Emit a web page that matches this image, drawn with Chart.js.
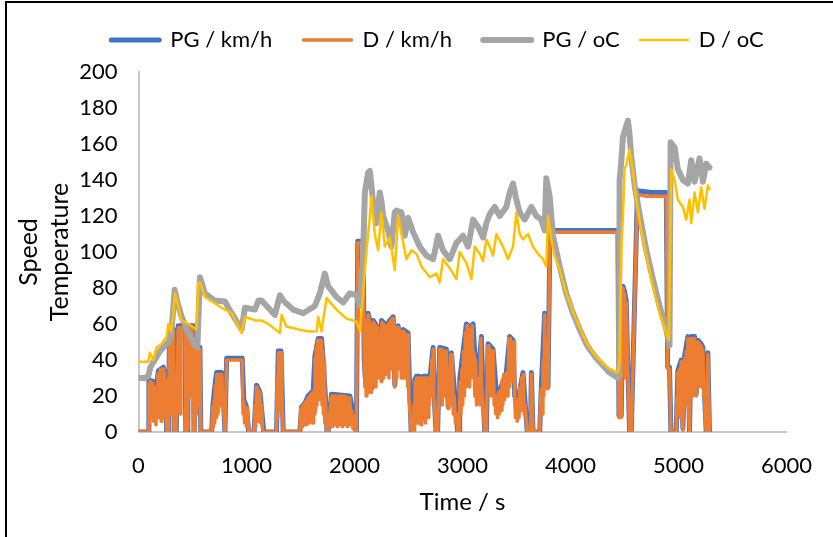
<!DOCTYPE html>
<html>
<head>
<meta charset="utf-8">
<script src="https://cdn.jsdelivr.net/npm/chart.js@4.4.0/dist/chart.umd.min.js"></script>
<style>
  html, body { margin: 0; padding: 0; background: #fff; }
  #wrap { position: relative; width: 833px; height: 537px; overflow: hidden; }
  #frame { position: absolute; left: 5px; top: 1px; width: 900px; height: 700px;
           border-left: 2px solid #000; border-top: 2px solid #000; pointer-events: none; }
</style>
</head>
<body>
<div id="wrap">
  <canvas id="chart" width="833" height="537"></canvas>
  <div id="frame"></div>
</div>
<script>
// [time s, value]
const pgSpeed = [[0,0],[91,0],[96,29],[137,28],[160,23],[184,34],[230,36],[252,30],[260,0],[276,0],[288,57],[325,57],[330,0],[350,0],[368,59],[430,59],[438,0],[456,0],[462,59],[507,59],[515,0],[523,0],[530,47],[569,47],[577,0],[677,0],[690,16],[710,27],[723,33],[770,33],[790,14],[800,0],[816,41],[960,41],[975,18],[1000,14],[1020,0],[1070,0],[1093,26],[1125,22],[1160,0],[1278,0],[1294,45],[1320,45],[1340,0],[1494,0],[1510,14],[1540,16],[1570,20],[1618,23],[1633,42],[1664,52],[1695,52],[1710,40],[1730,20],[1745,0],[1756,0],[1787,21],[1957,20],[1990,10],[2018,0],[2030,106],[2080,106],[2090,40],[2100,30],[2126,66],[2150,60],[2157,24],[2173,62],[2204,59],[2220,55],[2234,34],[2250,62],[2296,59],[2327,62],[2358,64],[2373,26],[2404,59],[2419,38],[2450,57],[2496,55],[2512,21],[2525,0],[2543,0],[2558,29],[2574,31],[2600,31],[2620,7],[2640,31],[2700,31],[2728,47],[2743,14],[2755,0],[2770,0],[2789,47],[2851,46],[2867,14],[2897,44],[2928,21],[2955,0],[2970,0],[2974,29],[3036,60],[3067,58],[3098,60],[3113,44],[3144,31],[3175,53],[3190,21],[3206,0],[3221,0],[3237,49],[3283,46],[3314,21],[3345,23],[3406,33],[3437,53],[3468,51],[3483,20],[3514,18],[3560,33],[3591,7],[3600,0],[3630,0],[3638,33],[3653,0],[3715,0],[3730,25],[3761,66],[3792,25],[3810,112],[4100,112],[4300,112],[4439,112],[4449,9],[4470,9],[4486,81],[4501,78],[4516,73],[4532,34],[4547,0],[4563,0],[4620,134],[4750,133],[4887,133],[4900,36],[4917,36],[4930,0],[4979,0],[4994,34],[5025,40],[5041,2],[5056,42],[5087,53],[5102,0],[5118,53],[5149,53],[5164,21],[5180,51],[5210,49],[5226,47],[5241,21],[5257,0],[5272,44],[5287,0]];

const dSpeed = [[0,0],[91,0],[96,27],[102,5],[108,28],[114,8],[120,26],[126,10],[132,27],[138,6],[144,25],[150,12],[156,22],[162,4],[168,22],[174,10],[180,32],[186,8],[192,33],[198,12],[204,35],[210,6],[216,35],[222,14],[228,35],[234,8],[240,33],[246,15],[252,29],[260,0],[276,0],[288,56],[294,10],[300,56],[306,15],[312,56],[318,20],[324,56],[330,0],[350,0],[368,58],[380,58],[386,10],[392,58],[430,58],[438,1],[446,0],[456,2],[462,58],[470,20],[476,58],[484,25],[490,58],[500,58],[507,0],[523,0],[530,46],[536,10],[542,46],[548,15],[554,46],[560,20],[569,46],[577,0],[677,0],[688,14],[694,3],[700,18],[706,5],[712,26],[718,8],[724,32],[730,10],[736,32],[742,12],[748,32],[754,15],[760,32],[766,18],[772,32],[780,14],[790,13],[800,0],[816,40],[960,40],[968,10],[975,17],[982,5],[990,14],[1000,3],[1010,13],[1020,0],[1070,0],[1080,15],[1086,3],[1093,25],[1099,8],[1105,24],[1111,6],[1118,22],[1125,21],[1132,5],[1140,15],[1148,2],[1160,0],[1278,0],[1284,30],[1290,8],[1296,44],[1302,12],[1308,44],[1314,15],[1320,44],[1328,20],[1340,0],[1494,0],[1502,13],[1508,2],[1514,14],[1520,3],[1526,15],[1532,4],[1538,16],[1544,5],[1550,17],[1556,4],[1562,18],[1568,6],[1574,19],[1580,5],[1586,20],[1592,6],[1598,21],[1604,8],[1610,22],[1616,5],[1622,22],[1628,10],[1634,41],[1640,12],[1646,47],[1652,15],[1658,51],[1664,20],[1670,51],[1676,18],[1682,51],[1688,22],[1694,51],[1700,15],[1706,45],[1712,10],[1718,38],[1724,5],[1730,19],[1745,0],[1756,0],[1787,20],[1793,3],[1799,20],[1805,5],[1811,20],[1817,4],[1823,20],[1829,6],[1835,20],[1841,3],[1847,19],[1853,5],[1859,20],[1865,4],[1871,19],[1877,6],[1883,20],[1889,3],[1895,19],[1901,5],[1907,20],[1913,4],[1919,19],[1925,6],[1931,19],[1937,3],[1943,18],[1949,5],[1957,19],[1965,4],[1975,12],[1985,2],[1995,9],[2005,0],[2018,0],[2030,105],[2080,105],[2090,38],[2096,25],[2102,55],[2108,20],[2114,62],[2120,25],[2126,65],[2132,22],[2138,62],[2144,30],[2150,60],[2157,22],[2163,55],[2169,28],[2175,61],[2181,30],[2187,60],[2193,25],[2199,59],[2205,35],[2211,58],[2217,30],[2223,55],[2229,32],[2235,33],[2241,50],[2247,28],[2253,61],[2259,35],[2265,60],[2271,30],[2277,59],[2283,35],[2289,58],[2295,32],[2301,59],[2307,40],[2313,60],[2319,30],[2325,61],[2331,40],[2337,62],[2343,35],[2349,63],[2355,38],[2361,63],[2367,28],[2373,25],[2379,45],[2385,58],[2391,30],[2397,58],[2403,35],[2409,58],[2415,37],[2421,40],[2427,55],[2433,30],[2439,56],[2445,35],[2451,56],[2457,30],[2463,55],[2469,35],[2475,54],[2481,30],[2487,54],[2493,25],[2499,54],[2505,20],[2512,20],[2525,0],[2543,0],[2550,15],[2556,0],[2562,28],[2568,5],[2574,30],[2580,10],[2586,30],[2592,5],[2598,30],[2604,8],[2610,30],[2616,4],[2622,6],[2628,30],[2634,10],[2640,30],[2646,12],[2652,30],[2658,5],[2664,30],[2670,10],[2676,30],[2682,8],[2688,30],[2694,15],[2700,30],[2708,20],[2716,40],[2722,20],[2728,46],[2735,20],[2743,13],[2755,0],[2770,0],[2789,46],[2797,20],[2805,46],[2813,15],[2821,45],[2829,20],[2837,45],[2845,25],[2851,45],[2860,20],[2867,13],[2875,35],[2883,15],[2891,43],[2899,20],[2907,43],[2915,10],[2923,20],[2935,5],[2945,10],[2955,0],[2970,0],[2978,28],[2986,10],[2994,35],[3002,15],[3010,45],[3018,20],[3026,55],[3034,25],[3042,59],[3050,30],[3058,57],[3066,25],[3074,57],[3082,30],[3090,59],[3098,35],[3106,44],[3114,20],[3122,40],[3130,15],[3138,30],[3146,20],[3154,30],[3162,15],[3170,52],[3178,25],[3186,20],[3194,10],[3206,0],[3221,0],[3229,30],[3237,48],[3245,25],[3253,46],[3261,20],[3269,45],[3277,25],[3285,45],[3293,15],[3301,20],[3309,10],[3317,20],[3325,8],[3333,22],[3341,10],[3349,23],[3357,12],[3365,28],[3373,15],[3381,32],[3389,18],[3397,32],[3405,20],[3413,33],[3421,20],[3429,52],[3437,25],[3445,52],[3453,30],[3461,50],[3469,28],[3477,50],[3483,19],[3491,8],[3499,18],[3507,6],[3515,17],[3523,8],[3531,25],[3539,12],[3547,30],[3555,15],[3563,32],[3571,10],[3580,15],[3591,6],[3600,0],[3630,0],[3638,32],[3653,0],[3715,0],[3722,15],[3730,24],[3738,10],[3745,40],[3753,20],[3761,65],[3768,30],[3775,50],[3783,24],[3792,24],[3810,111],[4000,111],[4200,111],[4439,111],[4449,8],[4470,8],[4480,50],[4486,80],[4494,40],[4501,77],[4510,30],[4516,72],[4532,33],[4547,0],[4563,0],[4620,132],[4700,131],[4800,131],[4887,131],[4900,35],[4917,35],[4930,0],[4979,0],[4987,20],[4994,33],[5002,10],[5010,35],[5018,8],[5025,39],[5033,10],[5041,1],[5049,30],[5056,41],[5064,15],[5072,45],[5080,20],[5087,52],[5095,10],[5102,0],[5110,30],[5118,52],[5126,20],[5134,52],[5142,25],[5149,52],[5157,30],[5164,20],[5172,35],[5180,50],[5188,25],[5195,49],[5203,30],[5210,48],[5218,25],[5226,46],[5234,20],[5241,20],[5249,5],[5257,0],[5264,25],[5272,43],[5280,20],[5287,0]];

const pgTemp = [[0,30],[60,30],[91,31],[110,36],[150,40],[200,45],[246,48],[275,50],[300,53],[307,57],[335,79],[360,72],[400,64],[462,55],[523,48],[545,47],[569,86],[615,77],[708,73],[800,72.5],[862,66],[955,57],[985,69],[1078,68],[1111,73],[1140,73],[1202,69],[1263,65],[1309,76],[1340,73],[1432,68],[1525,66],[1633,70],[1679,77],[1725,88],[1756,81],[1833,75],[1895,72],[1957,77],[2018,76],[2050,70],[2080,99],[2096,133],[2126,144],[2142,145],[2157,137],[2173,127],[2204,116],[2234,133],[2250,128],[2265,120],[2311,112],[2342,103],[2373,122],[2389,123],[2435,122],[2466,109],[2496,119],[2543,111],[2604,103],[2666,98],[2728,96],[2743,100],[2774,109],[2820,101],[2882,96],[2944,105],[3005,109],[3052,103],[3098,118],[3144,114],[3190,108],[3221,116],[3252,121],[3298,125],[3345,120],[3406,125],[3437,133],[3468,138],[3499,129],[3530,122],[3576,118],[3638,125],[3684,120],[3730,118],[3761,112],[3776,141],[3807,131],[3838,109],[3900,92],[3961,77],[4023,66],[4085,57],[4146,49],[4177,46],[4239,41],[4301,37],[4362,33],[4439,30],[4449,31],[4455,140],[4470,150],[4486,164],[4516,170],[4532,173],[4547,165],[4563,153],[4594,137],[4640,121],[4702,101],[4763,85],[4825,70],[4887,57],[4917,48],[4927,161],[4964,158],[4994,146],[5041,140],[5087,138],[5118,151],[5149,139],[5195,152],[5226,139],[5257,149],[5287,147]];

const dTemp = [[0,39],[91,39],[106,44],[137,40],[168,47],[215,49],[260,53],[276,60],[300,56],[320,64],[338,77],[400,62],[462,60],[538,57],[553,82.7],[569,83],[615,75],[770,69],[862,66],[955,55],[985,64],[1078,62],[1140,62],[1202,60],[1309,55],[1325,65],[1370,58.6],[1494,56.8],[1587,55.8],[1650,56],[1664,64],[1695,56],[1741,74.4],[1833,68],[1926,63],[2018,61.4],[2050,56],[2080,77],[2111,101],[2140,118],[2157,131],[2188,110],[2219,101],[2250,122],[2281,103],[2327,108],[2373,90],[2404,120],[2435,110],[2481,96],[2527,101],[2574,99],[2620,92],[2697,86],[2759,88],[2789,83],[2820,96],[2882,91],[2944,85],[2974,100],[3036,94],[3067,88],[3083,85],[3113,103],[3160,99],[3190,95],[3221,107],[3252,103],[3283,98],[3314,110],[3375,103],[3422,96],[3468,103],[3499,122],[3530,110],[3560,107],[3607,110],[3653,103],[3699,99],[3746,96],[3776,92],[3792,120],[3823,107],[3853,98],[3900,90],[3961,77],[4023,67],[4085,58],[4146,50],[4177,47],[4239,42],[4301,38],[4362,35],[4439,33],[4455,40],[4470,101],[4486,120],[4501,147],[4516,148],[4547,157],[4578,145],[4609,129],[4655,112],[4702,98],[4763,81],[4825,66],[4887,55],[4911,51],[4933,146],[4964,140],[4994,129],[5041,125],[5072,118],[5102,129],[5118,116],[5149,133],[5180,122],[5210,136],[5241,124],[5272,137],[5287,135]];

const seriesNames = ['PG / km/h', 'D / km/h', 'PG / oC', 'D / oC'];
const seriesColors = ['#4472C4', '#ED7D31', '#A5A5A5', '#FFC000'];
const seriesWidths = [5, 3.5, 6, 2.5];
const legendGaps = ['  ', '  ', '', ''];

const FONT = 'Lato, "Open Sans", sans-serif';
const toPoints = arr => arr.map(([x, y]) => ({ x, y }));

const allData = [pgSpeed, dSpeed, pgTemp, dTemp];
const datasets = allData.map((d, i) => ({
    label: seriesNames[i],
    data: toPoints(d),
    borderColor: seriesColors[i],
    backgroundColor: seriesColors[i],
    borderWidth: seriesWidths[i],
    order: 4 - i
}));

// legend sits right of centre and closer to the top than chart.js puts it
const legendShift = {
    id: 'legendShift',
    afterLayout(chart) {
        const lg = chart.legend;
        lg.left += 39;
        lg.right += 39;
        lg.top -= 11;
        lg.bottom -= 11;
    }
};

const ctx = document.getElementById('chart').getContext('2d');
new Chart(ctx, {
    type: 'line',
    data: { datasets },
    plugins: [legendShift],
    options: {
        responsive: false,
        animation: false,
        elements: {
            point: { radius: 0 },
            line: { tension: 0, fill: false, borderJoinStyle: 'round', borderCapStyle: 'round' }
        },
        layout: { padding: { left: 10, right: 46, top: 20, bottom: 10 } },
        plugins: {
            tooltip: { enabled: false },
            legend: {
                position: 'top',
                labels: {
                    usePointStyle: true,
                    pointStyleWidth: 48,
                    padding: 20,
                    color: '#000',
                    font: { family: FONT, size: 22 },
                    sort: (a, b) => a.datasetIndex - b.datasetIndex,
                    generateLabels: (chart) => chart.data.datasets.map((ds, i) => ({
                        text: ds.label + legendGaps[i],
                        datasetIndex: i,
                        strokeStyle: ds.borderColor,
                        fillStyle: ds.borderColor,
                        lineWidth: ds.borderWidth,
                        lineCap: 'round',
                        pointStyle: 'line',
                        hidden: false
                    }))
                }
            }
        },
        scales: {
            x: {
                type: 'linear',
                min: 0, max: 6000,
                ticks: { stepSize: 1000, color: '#000', padding: 21, font: { family: FONT, size: 22 }, callback: (v) => String(v) },
                grid: { display: false, drawTicks: false },
                border: { display: true, color: '#C8C8C8', width: 2 },
                title: { display: true, text: 'Time / s', color: '#000', font: { family: FONT, size: 24 }, padding: { top: 0, bottom: 10 } },
                afterFit: (s) => { s.height = 95; }
            },
            y: {
                min: 0, max: 200,
                ticks: { stepSize: 20, color: '#000', padding: 21, font: { family: FONT, size: 22 } },
                grid: { display: false, drawTicks: false },
                border: { display: true, color: '#C8C8C8', width: 2 },
                title: { display: true, text: ['Speed', 'Temperature'], color: '#000', font: { family: FONT, size: 25, lineHeight: 1.26 }, padding: { top: 2.75, bottom: 0 } },
                afterFit: (s) => { s.width = 128.5; }
            }
        }
    }
});
</script>
</body>
</html>
